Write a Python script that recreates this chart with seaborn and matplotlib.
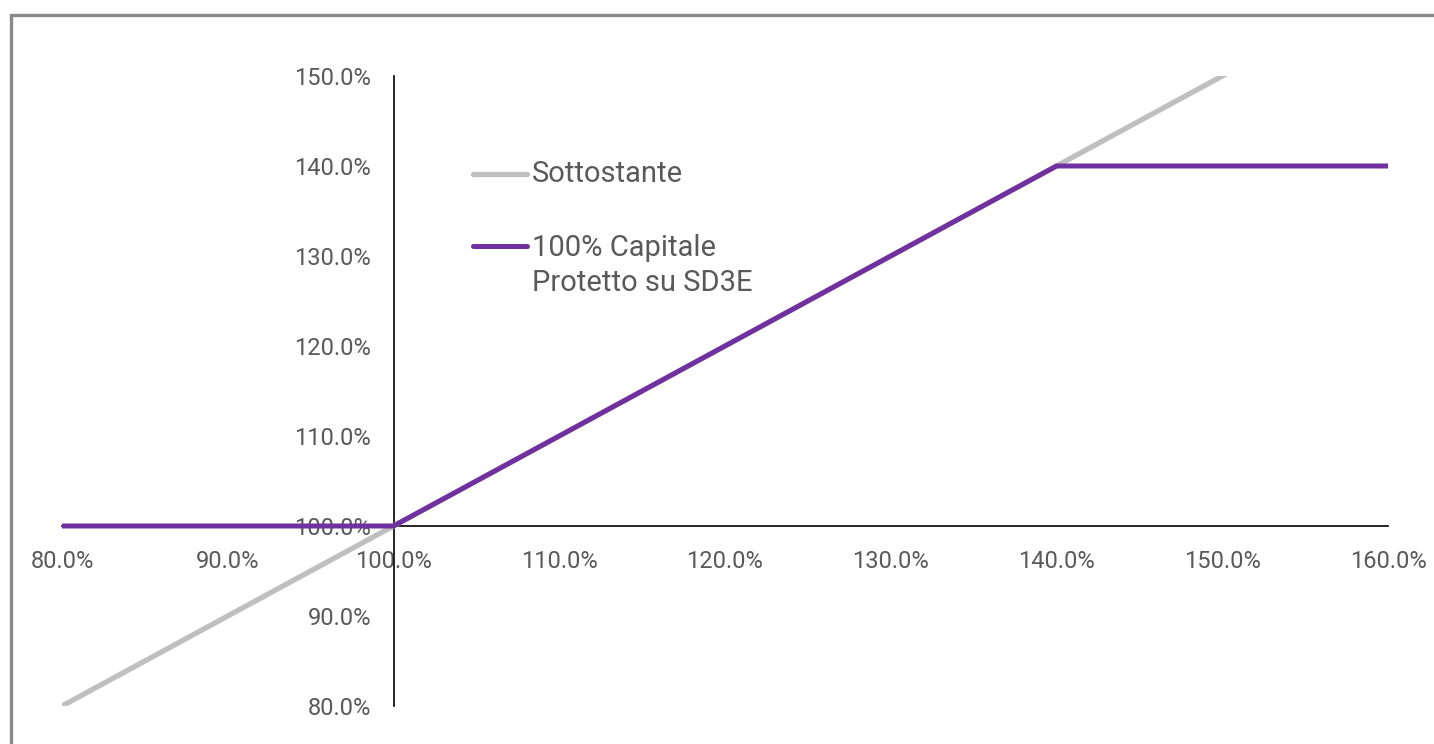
import matplotlib
matplotlib.use("Agg")
import matplotlib.pyplot as plt
import seaborn as sns
import pandas as pd
from matplotlib.ticker import PercentFormatter, MultipleLocator
from matplotlib.patches import Rectangle
from matplotlib.lines import Line2D

# ---- data ----
underlying_x = [80, 90, 100, 110, 120, 130, 140, 150, 160]
underlying_y = [80, 90, 100, 110, 120, 130, 140, 150, 160]
product_x = [80, 90, 98, 100, 110, 120, 130, 140, 141, 150, 160]
product_y = [100, 100, 100, 100, 110, 120, 130, 140, 140, 140, 140]
series_names = ["Sottostante", "100% Capitale\nProtetto su SD3E"]
series_colors = ["#BFBFBF", "#7030A0"]

sns.set_style("white")
plt.rcParams['font.family'] = ['Roboto', 'DejaVu Sans']

fig = plt.figure(figsize=(14.34, 7.44), dpi=100)
ax = fig.add_axes([62/1434, 38/744, 1326/1434, 630/744])

df_u = pd.DataFrame({"x": underlying_x, "y": underlying_y})
df_p = pd.DataFrame({"x": product_x, "y": product_y})
sns.lineplot(data=df_u, x="x", y="y", color=series_colors[0], linewidth=3.8,
             ax=ax, zorder=3, solid_capstyle="butt")
sns.lineplot(data=df_p, x="x", y="y", color=series_colors[1], linewidth=3.6,
             ax=ax, zorder=4, solid_joinstyle="round", solid_capstyle="butt")

ax.set_xlim(80, 160)
ax.set_ylim(80, 150)
ax.xaxis.set_major_locator(MultipleLocator(10))
ax.yaxis.set_major_locator(MultipleLocator(10))
ax.xaxis.set_major_formatter(PercentFormatter(xmax=100, decimals=1))
ax.yaxis.set_major_formatter(PercentFormatter(xmax=100, decimals=1))
ax.set_xlabel("")
ax.set_ylabel("")

for s in ["top", "right"]:
    ax.spines[s].set_visible(False)
ax.spines["left"].set_position(("data", 100))
ax.spines["bottom"].set_position(("data", 100))
for s in ["left", "bottom"]:
    ax.spines[s].set_color("black")
    ax.spines[s].set_linewidth(1.2)
    ax.spines[s].set_zorder(2.5)

ax.tick_params(axis="y", length=0, pad=16, labelsize=17, labelcolor="#595959")
ax.tick_params(axis="x", length=0, pad=17, labelsize=17, labelcolor="#595959")

# ---- manual legend ----
leg_y1 = 1 - 174/744
leg_y2 = 1 - 246/744
fig.add_artist(Line2D([473/1434, 527/1434], [leg_y1, leg_y1], transform=fig.transFigure,
                      color=series_colors[0], linewidth=3.8, solid_capstyle="round"))
fig.add_artist(Line2D([473/1434, 527/1434], [leg_y2, leg_y2], transform=fig.transFigure,
                      color=series_colors[1], linewidth=3.6, solid_capstyle="round"))
fig.text(532/1434, leg_y1, series_names[0], fontsize=21, color="#595959",
         va="center", ha="left")
fig.text(532/1434, leg_y2 + 0.0161, series_names[1], fontsize=21, color="#595959",
         va="top", ha="left", linespacing=1.3)

# ---- frame ----
fig.add_artist(Rectangle((11/1434, -0.05), 1.1, 1.05 - 15/744, transform=fig.transFigure,
                         fill=False, edgecolor="#898989", linewidth=2.4, clip_on=False))

fig.savefig("out.png", dpi=100)
